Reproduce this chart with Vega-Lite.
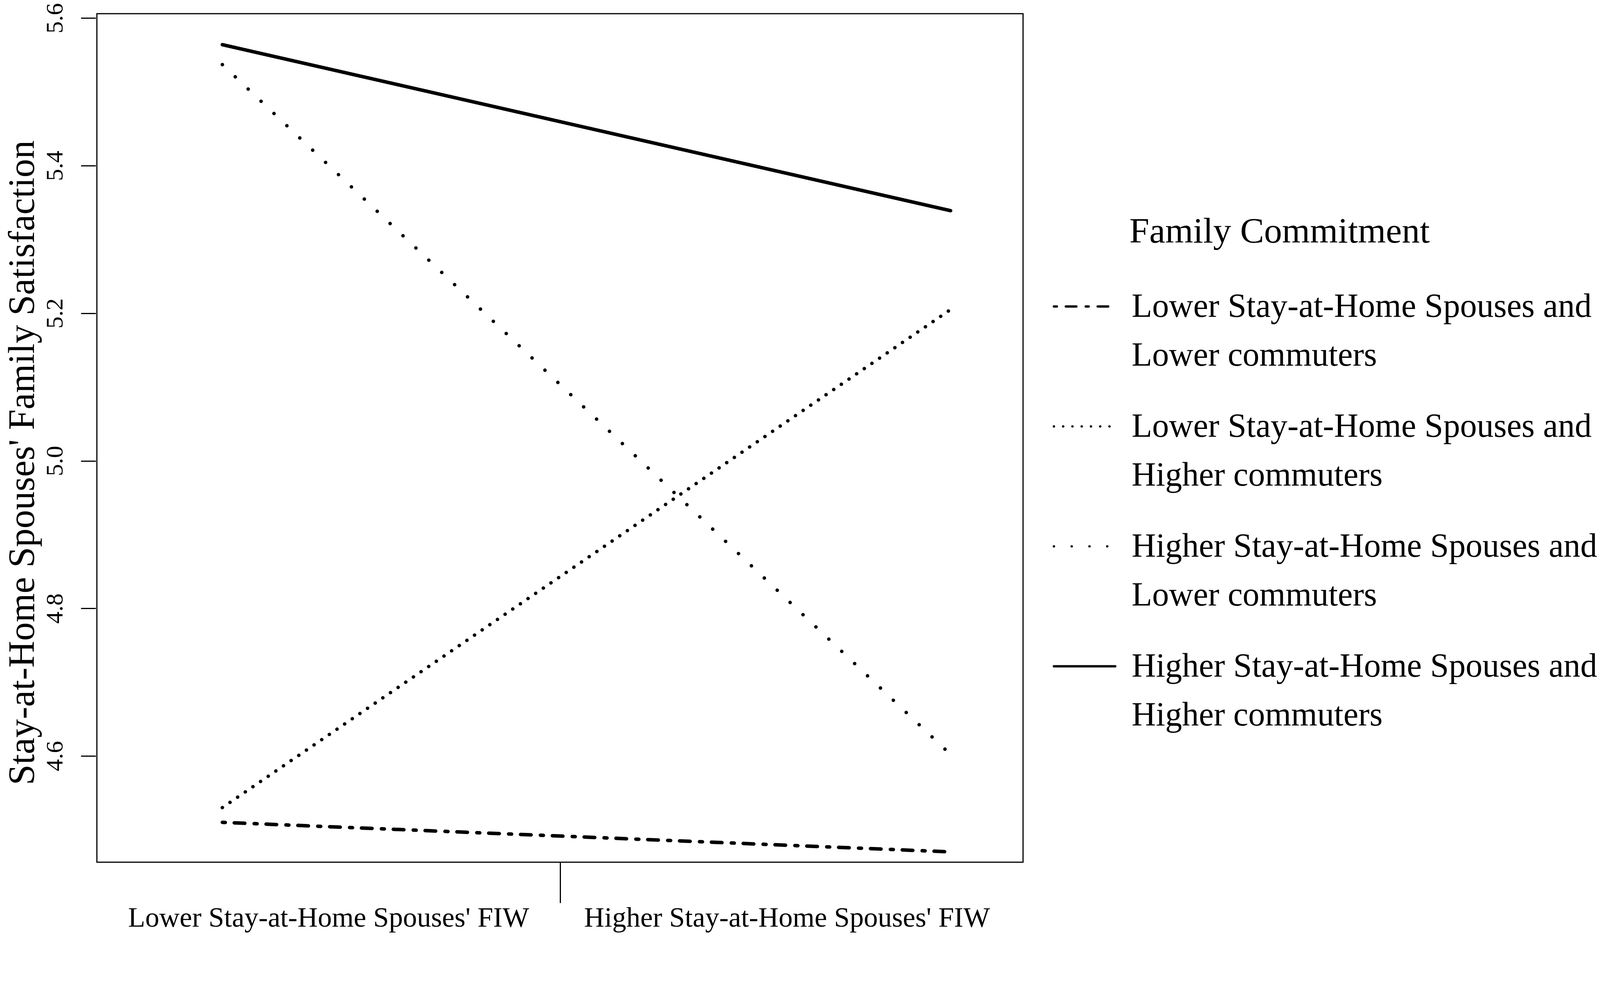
{
  "$schema": "https://vega.github.io/schema/vega-lite/v6.json",
  "autosize": {"type": "none"},
  "padding": {"left": 248, "top": 35, "right": 1698, "bottom": 322},
  "width": 2371,
  "height": 2172,
  "background": "white",
  "config": {
    "font": "Liberation Serif",
    "view": {"stroke": "black", "strokeWidth": 3}
  },
  "data": {
    "values": [
      {"fiw": 0, "group": "Lower Stay-at-Home Spouses and Lower commuters", "sat": 4.510},
      {"fiw": 1, "group": "Lower Stay-at-Home Spouses and Lower commuters", "sat": 4.470},
      {"fiw": 0, "group": "Lower Stay-at-Home Spouses and Higher commuters", "sat": 4.530},
      {"fiw": 1, "group": "Lower Stay-at-Home Spouses and Higher commuters", "sat": 5.205},
      {"fiw": 0, "group": "Higher Stay-at-Home Spouses and Lower commuters", "sat": 5.537},
      {"fiw": 1, "group": "Higher Stay-at-Home Spouses and Lower commuters", "sat": 4.602},
      {"fiw": 0, "group": "Higher Stay-at-Home Spouses and Higher commuters", "sat": 5.564},
      {"fiw": 1, "group": "Higher Stay-at-Home Spouses and Higher commuters", "sat": 5.339}
    ]
  },
  "mark": {"type": "line", "color": "black", "strokeWidth": 9, "strokeCap": "round"},
  "encoding": {
    "x": {
      "field": "fiw",
      "type": "quantitative",
      "scale": {"domain": [-0.1723, 1.0995], "nice": false, "zero": false},
      "axis": {
        "title": null,
        "grid": false,
        "domain": false,
        "values": [0.1456, 0.4636, 0.7751],
        "labelExpr": "datum.value < 0.3 ? \"Lower Stay-at-Home Spouses' FIW\" : (datum.value > 0.6 ? \"Higher Stay-at-Home Spouses' FIW\" : '')",
        "tickColor": {"condition": {"test": "datum.value > 0.3 && datum.value < 0.6", "value": "black"}, "value": "transparent"},
        "tickSize": 104,
        "tickWidth": 3,
        "labelPadding": 60,
        "labelBaseline": "alphabetic",
        "labelAlign": "center",
        "labelFontSize": 72,
        "labelFont": "Liberation Serif",
        "labelColor": "black",
        "labelLimit": 3000,
        "labelOverlap": false,
        "labelFlush": false
      }
    },
    "y": {
      "field": "sat",
      "type": "quantitative",
      "scale": {"domain": [4.456, 5.606], "nice": false, "zero": false},
      "axis": {
        "title": "Stay-at-Home Spouses' Family Satisfaction",
        "grid": false,
        "domain": false,
        "offset": 3,
        "values": [4.6, 4.8, 5.0, 5.2, 5.4, 5.6],
        "format": ".1f",
        "tickSize": 38,
        "tickWidth": 3,
        "tickColor": "black",
        "labelAngle": 270,
        "labelAlign": "center",
        "labelBaseline": "alphabetic",
        "labelPadding": 48,
        "labelFontSize": 62,
        "labelFont": "Liberation Serif",
        "labelColor": "black",
        "labelOverlap": false,
        "labelFlush": false,
        "titleAngle": 270,
        "titleX": -159,
        "titleY": 1149,
        "titleAlign": "center",
        "titleBaseline": "alphabetic",
        "titleFontSize": 95,
        "titleFont": "Liberation Serif",
        "titleFontWeight": "normal",
        "titleColor": "black",
        "titleLimit": 4000
      }
    },
    "strokeDash": {
      "field": "group",
      "type": "nominal",
      "scale": {
        "domain": [
          "Lower Stay-at-Home Spouses and Lower commuters",
          "Lower Stay-at-Home Spouses and Higher commuters",
          "Higher Stay-at-Home Spouses and Lower commuters",
          "Higher Stay-at-Home Spouses and Higher commuters"
        ],
        "range": [[7.5, 23, 27, 24], [0.1, 23.6], [0.1, 45.4], [1, 0]]
      },
      "legend": {
        "orient": "none",
        "legendX": 2447,
        "legendY": 513,
        "padding": 0,
        "title": "Family Commitment",
        "titleFont": "Liberation Serif",
        "titleFontSize": 92,
        "titleFontWeight": "normal",
        "titleColor": "black",
        "titlePadding": 63,
        "titleLimit": 3000,
        "labelFont": "Liberation Serif",
        "labelFontSize": 86,
        "labelColor": "black",
        "labelLimit": 3000,
        "labelOffset": 39,
        "labelExpr": "[substring(datum.label, 0, indexof(datum.label, ' and ') + 4), substring(datum.label, indexof(datum.label, ' and ') + 5)]",
        "symbolType": "stroke",
        "symbolSize": 24649,
        "symbolStrokeWidth": 6,
        "symbolStrokeColor": "black",
        "rowPadding": 57,
        "encode": {
          "labels": {"update": {"lineHeight": {"value": 125}}},
          "title": {"update": {"dx": {"value": 196}}},
          "symbols": {"update": {"strokeCap": {"value": "round"}}}
        }
      }
    }
  }
}
